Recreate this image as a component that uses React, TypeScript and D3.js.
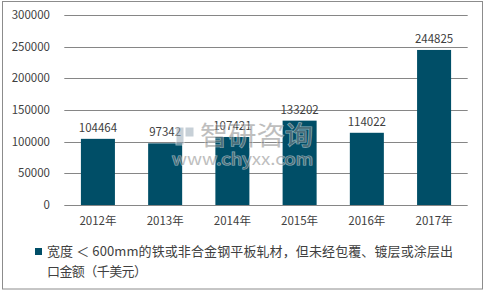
import React from "react";
import * as d3 from "d3";

const categories = ["2012年", "2013年", "2014年", "2015年", "2016年", "2017年"];
const values = [104464, 97342, 107421, 133202, 114022, 244825];
const yTicks = [0, 50000, 100000, 150000, 200000, 250000, 300000];
const legendLines = ["宽度 ＜ 600mm的铁或非合金钢平板轧材，但未经包覆、镀层或涂层出", "口金额（千美元）"];

const W = 485;
const H = 292;
const font = "'Noto Sans CJK SC', 'Liberation Sans', Arial, sans-serif";

export default function App() {
  const x = d3.scaleBand<string>().domain(categories).range([64.3, 467.7]).paddingInner(0.494).paddingOuter(0.247);
  const y = d3.scaleLinear().domain([0, 300000]).range([205, 15]);
  return (
    <svg width={W} height={H} style={{ position: "absolute", left: 0, top: 0, background: "#fff" }}>
      <rect x={2.5} y={1.5} width={480} height={287.5} fill="#fff" stroke="#8c8c8c" strokeWidth={1} />
      {yTicks.map((t) => (
        <g key={t}>
          <line x1={64.3} x2={467.7} y1={Math.round(y(t)) + 0.5} y2={Math.round(y(t)) + 0.5} stroke="#868686" strokeWidth={1} />
          <text x={50} y={y(t)} dy="0.35em" textAnchor="end" fontFamily={font} fontSize={11.5} fill="#404040">
            {t}
          </text>
        </g>
      ))}
      {categories.map((c, i) => (
        <g key={c}>
          <rect x={x(c)!} y={y(values[i])} width={x.bandwidth()} height={y(0) - y(values[i])} fill="#004e67" />
          <text x={x(c)! + x.bandwidth() / 2} y={y(values[i]) - 7} textAnchor="middle" fontFamily={font} fontSize={11.5} fill="#404040">
            {values[i]}
          </text>
          <text x={x(c)! + x.bandwidth() / 2} y={y(0) + 15.5} dy="0.35em" textAnchor="middle" fontFamily={font} fontSize={11.5} fill="#404040">
            {c}
          </text>
        </g>
      ))}
      <g opacity={0.55}>
        <rect x={176} y={127} width={8} height={18} fill="#9aaab8" stroke="#fff" strokeWidth={1} />
        <rect x={185} y={127} width={9} height={10} fill="#9aaab8" stroke="#fff" strokeWidth={1} />
        <text x={200} y={136} dy="0.35em" fontFamily={font} fontSize={26} fill="#8a8a8a" stroke="#fff" strokeWidth={1.2} paintOrder="stroke" textLength={113} lengthAdjust="spacingAndGlyphs">
          智研咨询
        </text>
        <text x={172} y={159} dy="0.35em" fontFamily={font} fontSize={16} fill="#8a8a8a" stroke="#fff" strokeWidth={1.2} paintOrder="stroke" textLength={141} lengthAdjust="spacingAndGlyphs">
          www.chyxx.com
        </text>
      </g>
      <rect x={35} y={248} width={7} height={7} fill="#004e67" />
      {legendLines.map((l, i) => (
        <text key={i} x={47} y={251.7 + i * 20} dy="0.35em" fontFamily={font} fontSize={13} fill="#404040" textLength={i === 0 ? 406 : 100} lengthAdjust="spacing">
          {l}
        </text>
      ))}
    </svg>
  );
}
